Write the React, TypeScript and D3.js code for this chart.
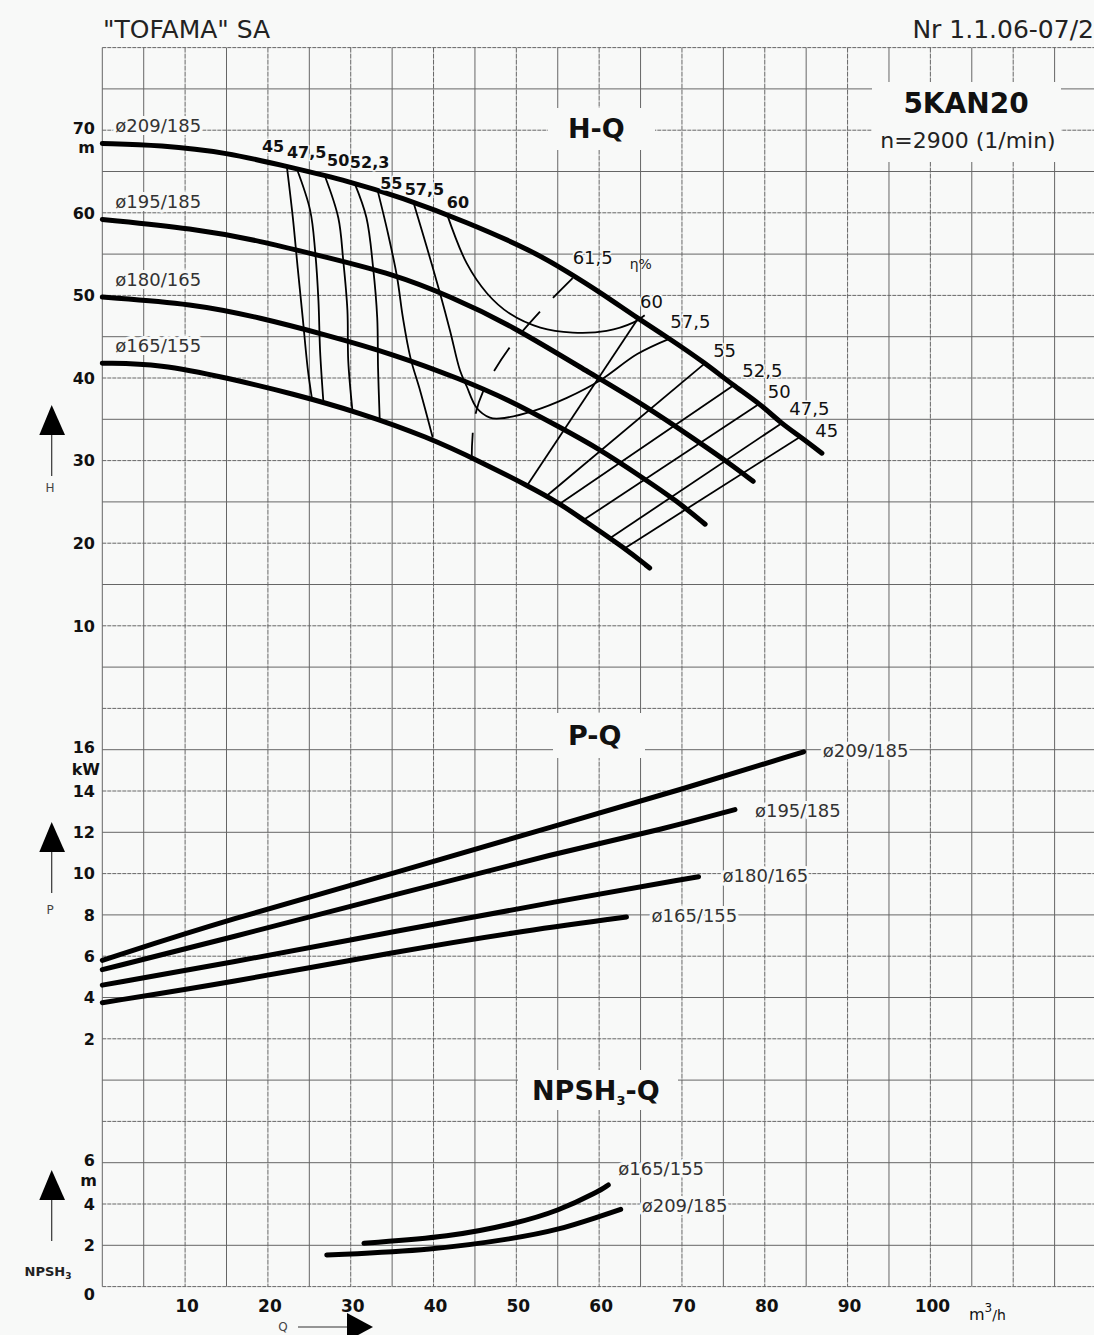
import React from "react";
import * as d3 from "d3";

type Pt = [number, number];

// H-Q curves: [Q m3/h, H m]
const hq209: Pt[] = [[0, 68.4], [7, 68.2], [15.1, 67.3], [22.3, 65.6], [29.9, 63.8], [36, 61.9], [44, 58.9], [52.1, 55.3], [56.1, 52.9], [60.1, 50.4], [64.7, 47.2], [68.6, 44.7], [72.8, 41.8], [76.2, 39.1], [79.4, 36.9], [82.0, 34.5], [84.3, 32.9], [86.9, 30.9]];
const hq195: Pt[] = [[0, 59.2], [11, 58.1], [19.1, 56.6], [27.1, 54.6], [35.1, 52.6], [42, 49.9], [49.2, 46.5], [59.7, 40.1], [65.3, 36.8], [71.8, 32.4], [75.4, 29.9], [78.6, 27.5]];
const hq180: Pt[] = [[0, 49.8], [11, 49.0], [19.1, 47.3], [27.1, 45.2], [35.1, 42.9], [43.2, 39.9], [49.2, 37.3], [55.3, 34.0], [59.7, 31.6], [65.3, 27.9], [69.4, 25.1], [72.8, 22.3]];
const hq165: Pt[] = [[0, 41.8], [7, 41.7], [15.1, 40.0], [23, 38.1], [31.1, 35.8], [39.2, 32.9], [46, 29.7], [51.3, 27.0], [55.3, 24.8], [58.1, 22.8], [63.1, 19.4], [66.1, 17.0]];

// efficiency lines, left branches (and U shapes)
const eff45: Pt[] = [[22.3, 65.5], [23, 59.5], [23.6, 53.3], [24.2, 47.3], [24.8, 41.2], [25.3, 37.6]];
const eff47: Pt[] = [[23.5, 65.3], [25.1, 60.3], [25.7, 55.4], [26.1, 49.4], [26.3, 43.3], [26.7, 37.1]];
const eff50: Pt[] = [[26.9, 64.4], [28.5, 59.4], [29.1, 54.2], [29.6, 48.2], [29.7, 42.1], [30.2, 36.1]];
const eff52: Pt[] = [[30.5, 63.5], [31.9, 59.4], [32.7, 53.4], [33.2, 47.3], [33.3, 41.2], [33.5, 35.0]];
const eff55: Pt[] = [[33.2, 62.9], [34.5, 57.5], [35.6, 52.2], [36.3, 47.3], [37.2, 42.5], [38.4, 38.4], [39.9, 32.8]];
const eff57: Pt[] = [[37.6, 61.2], [39.2, 55.8], [40.8, 50.2], [42, 45.7], [43.2, 40.9], [44, 39.0], [45.2, 36.4], [46.8, 35.2], [48, 35.1], [52, 36.0], [56.1, 37.6], [60.1, 39.7], [64.6, 42.9], [68.6, 44.8]];
const eff60: Pt[] = [[41.6, 59.9], [44, 53.9], [46.5, 50.2], [49.2, 47.8], [52.9, 46.1], [56.8, 45.5], [60.9, 45.7], [64.1, 46.7], [65.5, 47.6]];
// right branches
const effA: Pt[] = [[64.7, 47.2], [51.3, 27.0]];
const effR55: Pt[] = [[72.8, 41.8], [53.5, 25.6]];
const effR52: Pt[] = [[76.2, 39.1], [55.3, 24.8]];
const effR50: Pt[] = [[79.4, 36.9], [58.1, 22.8]];
const effR47: Pt[] = [[82.0, 34.5], [61.3, 20.6]];
const effR45: Pt[] = [[84.3, 32.9], [63.1, 19.4]];
// best efficiency locus (61,5)
const eff615: Pt[] = [[56.8, 52.1], [53.1, 48.3], [49.2, 43.7], [46, 38.4], [44.9, 34.8], [44.6, 30.0]];

// P-Q curves: [Q, P kW]
const pq209: Pt[] = [[0, 5.8], [15, 7.75], [36, 10.1], [54.9, 12.35], [70.2, 14.1], [84.7, 15.9]];
const pq195: Pt[] = [[0, 5.35], [15, 6.85], [36, 9.05], [54.9, 11.0], [68.2, 12.2], [76.4, 13.1]];
const pq180: Pt[] = [[0, 4.6], [15, 5.65], [36, 7.25], [54.9, 8.65], [72, 9.85]];
const pq165: Pt[] = [[0, 3.75], [15, 4.7], [36, 6.25], [49.6, 7.15], [63.3, 7.9]];

// NPSH3-Q curves: [Q, NPSH m]
const npsh165: Pt[] = [[31.6, 2.1], [42, 2.4], [49.9, 3.05], [55, 3.65], [59.9, 4.6], [61.1, 4.92]];
const npsh209: Pt[] = [[27.1, 1.53], [40, 1.77], [49.9, 2.34], [55, 2.74], [59.9, 3.38], [62.6, 3.74]];

const diameters = ["ø209/185", "ø195/185", "ø180/165", "ø165/155"];
const effLeftLabels = ["45", "47,5", "50", "52,3", "55", "57,5", "60"];
const effRightLabels = ["60", "57,5", "55", "52,5", "50", "47,5", "45"];
const hTicks = [10, 20, 30, 40, 50, 60, 70];
const pTicks = [2, 4, 6, 8, 10, 12, 14, 16];
const nTicks = [0, 2, 4, 6];
const qTicks = [10, 20, 30, 40, 50, 60, 70, 80, 90, 100];

const BG = "#f8f9f8";
const GRID = "#666";
const FONT = "'DejaVu Sans', sans-serif";

export default function App() {
  const x = d3.scaleLinear().domain([0, 120]).range([102.3, 1096]);
  const row = d3.scaleLinear().domain([0, 30]).range([47.6, 1286.6]);
  const yH = d3.scaleLinear().domain([0, 80]).range([row(16), row(0)]);
  const yP = d3.scaleLinear().domain([0, 18]).range([row(25), row(16)]);
  const yN = d3.scaleLinear().domain([0, 10]).range([row(30), row(25)]);

  const gen = (y: d3.ScaleLinear<number, number>, curve: d3.CurveFactory) =>
    d3.line<Pt>().x(d => x(d[0])).y(d => y(d[1])).curve(curve);
  const thin = d3.curveCatmullRom.alpha(0.5);
  const lH = gen(yH, thin);
  const tH = gen(yH, d3.curveBasis), tP = gen(yP, d3.curveBasis), tN = gen(yN, d3.curveBasis);

  const halo = { paintOrder: "stroke" as const, stroke: BG, strokeWidth: 6, strokeLinejoin: "round" as const };

  const hCurves = [hq209, hq195, hq180, hq165];
  const pCurves = [pq209, pq195, pq180, pq165];
  const effLeft = [eff45, eff47, eff50, eff52, eff55, eff57, eff60];
  const effRight = [effA, eff57, effR55, effR52, effR50, effR47, effR45];
  const leftOff: Pt[] = [[-25, -15], [-10, -11], [2, -10], [-5, -16], [3, 0], [-9, -8], [0, -6]];
  const rightOff: Pt[] = [[2, -11], [0, -10], [8, -6], [9, -8], [8, -6], [8, -8], [15, 0]];
  const pOff: Pt[] = [[19, 5], [20, 7], [24, 5], [25, 5]];

  const arrow = (tip: number, label: React.ReactNode, ly: number) => (
    <g>
      <path d={`M51.7,${tip} L39.3,${tip + 30} L65,${tip + 30} Z`} fill="#000" />
      <line x1={51.7} x2={51.7} y1={tip + 30} y2={tip + 71} stroke="#333" strokeWidth={1.2} />
      {label && <text x={50} y={ly} textAnchor="middle" fontFamily={FONT} fontSize={12} fill="#444">{label}</text>}
    </g>
  );

  return (
    <div>
      <style>{`body{margin:0;background:${BG};}`}</style>
      <svg width={1094} height={1335} style={{ display: "block", background: BG }}>
        {/* grid */}
        <g stroke={GRID} strokeWidth={1}>
          {d3.range(0, 121, 5).map(q => (
            <line key={"v" + q} x1={x(q)} x2={x(q)} y1={row(0)} y2={row(30)} strokeDasharray={q % 10 === 0 && q > 0 ? "5 1" : undefined} />
          ))}
          {d3.range(0, 31).map(k => (
            <line key={"h" + k} x1={x(0)} x2={x(120)} y1={row(k)} y2={row(k)} strokeDasharray={k % 2 === 0 ? "4 1" : undefined} />
          ))}
        </g>

        {/* masks for titles */}
        <rect x={872} y={82} width={189} height={80} fill={BG} />
        <rect x={548} y={108} width={107} height={42} fill={BG} />
        <rect x={553} y={713} width={92} height={45} fill={BG} />
        <rect x={518} y={1070} width={160} height={40} fill={BG} />

        {/* header */}
        <text x={103} y={38} fontFamily={FONT} fontSize={25} fill="#222">"TOFAMA" SA</text>
        <text x={1094} y={38} textAnchor="end" fontFamily={FONT} fontSize={25} fill="#222">Nr 1.1.06-07/2</text>
        <text x={966} y={113} textAnchor="middle" fontFamily={FONT} fontSize={28} fontWeight="bold" fill="#111">5KAN20</text>
        <text x={968} y={148} textAnchor="middle" fontFamily={FONT} fontSize={22} fill="#222">n=2900 (1/min)</text>
        <text x={568} y={138} fontFamily={FONT} fontSize={27} fontWeight="bold" fill="#111">H-Q</text>
        <text x={568} y={745} fontFamily={FONT} fontSize={27} fontWeight="bold" fill="#111">P-Q</text>
        <text x={532} y={1100} fontFamily={FONT} fontSize={27} fontWeight="bold" fill="#111">
          NPSH<tspan fontSize={13} dy={5}>3</tspan><tspan dy={-5}>-Q</tspan>
        </text>

        {/* efficiency lines */}
        <g fill="none" stroke="#000" strokeWidth={1.8}>
          {effLeft.map((d, i) => <path key={"el" + i} d={lH(d) || ""} />)}
          {effRight.filter((_, i) => i !== 1).map((d, i) => <path key={"er" + i} d={lH(d) || ""} />)}
          <path d={lH(eff615) || ""} strokeDasharray="28 19" />
        </g>

        {/* H-Q curves */}
        <g fill="none" stroke="#000" strokeWidth={5} strokeLinecap="round">
          {hCurves.map((d, i) => <path key={"h" + i} d={tH(d) || ""} />)}
        </g>

        {/* P-Q curves */}
        <g fill="none" stroke="#000" strokeWidth={5} strokeLinecap="round">
          {pCurves.map((d, i) => <path key={"p" + i} d={tP(d) || ""} />)}
        </g>

        {/* NPSH curves */}
        <g fill="none" stroke="#000" strokeWidth={5} strokeLinecap="round">
          <path d={tN(npsh165) || ""} />
          <path d={tN(npsh209) || ""} />
        </g>

        {/* diameter labels H-Q */}
        {hCurves.map((d, i) => (
          <text key={"dh" + i} x={x(d[0][0]) + 13} y={yH(d[0][1]) - 11} fontFamily={FONT} fontSize={18} fill="#333" {...halo}>{diameters[i]}</text>
        ))}
        {/* diameter labels P-Q */}
        {pCurves.map((d, i) => {
          const e = d[d.length - 1];
          return <text key={"dp" + i} x={x(e[0]) + pOff[i][0]} y={yP(e[1]) + pOff[i][1]} fontFamily={FONT} fontSize={18} fill="#333" {...halo}>{diameters[i]}</text>;
        })}
        {/* NPSH labels */}
        <text x={x(npsh165[npsh165.length - 1][0]) + 10} y={yN(npsh165[npsh165.length - 1][1]) - 10} fontFamily={FONT} fontSize={18} fill="#333" {...halo}>{diameters[3]}</text>
        <text x={x(npsh209[npsh209.length - 1][0]) + 21} y={yN(npsh209[npsh209.length - 1][1]) + 3} fontFamily={FONT} fontSize={18} fill="#333" {...halo}>{diameters[0]}</text>

        {/* efficiency labels */}
        {effLeft.map((d, i) => (
          <text key={"ll" + i} x={x(d[0][0]) + leftOff[i][0]} y={yH(d[0][1]) + leftOff[i][1]} fontFamily={FONT} fontSize={16} fontWeight="bold" fill="#111" {...halo} strokeWidth={3}>{effLeftLabels[i]}</text>
        ))}
        {effRight.map((d, i) => {
          const e = i === 1 ? d[d.length - 1] : d[0];
          return <text key={"rl" + i} x={x(e[0]) + rightOff[i][0]} y={yH(e[1]) + rightOff[i][1]} fontFamily={FONT} fontSize={18} fill="#111" {...halo} strokeWidth={3}>{effRightLabels[i]}</text>;
        })}
        <text x={x(eff615[0][0])} y={yH(eff615[0][1]) - 14} fontFamily={FONT} fontSize={18} fill="#111" {...halo} strokeWidth={3}>61,5</text>
        <text x={x(eff615[0][0]) + 57} y={yH(eff615[0][1]) - 9} fontFamily={FONT} fontSize={14} fill="#222">η%</text>

        {/* y tick labels */}
        <g fontFamily={FONT} fontSize={16} fontWeight="bold" fill="#111" textAnchor="end">
          {hTicks.map(t => <text key={"ht" + t} x={95} y={yH(t) + (t === 70 ? -2 : 0)} dy="0.36em">{t}</text>)}
          <text x={95} y={yH(70) + 23}>m</text>
          {pTicks.map(t => <text key={"pt" + t} x={95} y={yP(t) + (t === 16 ? -2 : 0)} dy="0.36em">{t}</text>)}
          <text x={100} y={yP(16) + 25}>kW</text>
          {nTicks.map(t => <text key={"nt" + t} x={95} y={yN(t) + (t === 0 ? 8 : t === 6 ? -2 : 0)} dy="0.36em">{t}</text>)}
          <text x={97} y={yN(5) + 3}>m</text>
        </g>

        {/* x tick labels */}
        <g fontFamily={FONT} fontSize={17} fontWeight="bold" fill="#111" textAnchor="middle">
          {qTicks.map(t => <text key={"qt" + t} x={x(t) + 2} y={1312}>{t}</text>)}
        </g>
        <text x={969} y={1320} fontFamily={FONT} fontSize={16} fill="#111">
          m<tspan fontSize={12} dy={-8}>3</tspan><tspan fontSize={14} dy={8}>/h</tspan>
        </text>

        {/* axis arrows */}
        {arrow(405, "H", 492)}
        {arrow(822, "P", 914)}
        {arrow(1170, null, 0)}
        <text x={48} y={1276} textAnchor="middle" fontFamily={FONT} fontSize={13} fontWeight="bold" fill="#222">
          NPSH<tspan fontSize={9} dy={3}>3</tspan>
        </text>
        <text x={283} y={1331} textAnchor="middle" fontFamily={FONT} fontSize={12} fill="#444">Q</text>
        <line x1={298} x2={348} y1={1327} y2={1327} stroke="#333" strokeWidth={1.2} />
        <path d="M347,1313 L373,1327 L347,1341 Z" fill="#000" />
      </svg>
    </div>
  );
}
